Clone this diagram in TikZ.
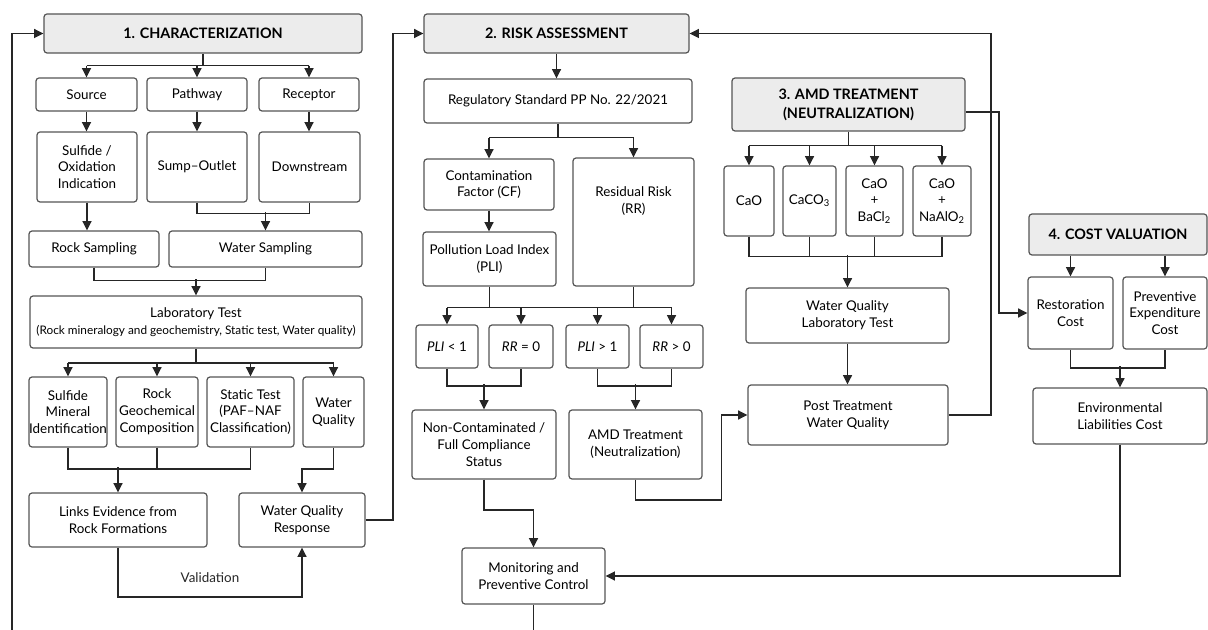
\documentclass[tikz,border=0pt]{standalone}
\usepackage{fontspec}
\setmainfont{Lato}
\usepackage{tikz}
\usetikzlibrary{arrows.meta,positioning,calc}
\definecolor{headgray}{RGB}{236,236,236}
\definecolor{edgegray}{RGB}{85,85,85}

\begin{document}
\begin{tikzpicture}[x=0.5pt,y=-0.5pt,
    font=\fontsize{6.7}{8.4}\selectfont,
    box/.style={draw=edgegray, line width=0.6pt, rounded corners=1.5pt, fill=white, inner sep=0pt, align=center},
    head/.style={box, fill=headgray, font=\fontsize{7.2}{9.4}\selectfont\bfseries},
    sz/.style 2 args={minimum width=#1*0.5pt, minimum height=#2*0.5pt},
    ln/.style={line width=0.9pt, black!85},
    arr/.style={ln, -{Triangle[width=4.4pt,length=4.6pt]}}]
\useasboundingbox (0,0) rectangle (1208,630);

    % 1. Characterization
    \node[head, sz={318}{39}] (char) at (203,33.5) {1. CHARACTERIZATION};
    \node[box, sz={101}{33}] (source) at (86.5,94.5) {Source};
    \node[box, sz={100}{33}] (pathway) at (197,94.5) {Pathway};
    \node[box, sz={100}{33}] (receptor) at (309,94.5) {Receptor};
    \node[box, sz={100}{70}] (sulfide) at (87,167) {Sulfide /\\Oxidation\\Indication};
    \node[box, sz={100}{70}] (sump) at (197,167) {Sump--Outlet};
    \node[box, sz={101}{70}] (downstr) at (309.5,167) {Downstream};
    \node[box, sz={130}{36}] (rocks) at (94,249) {Rock Sampling};
    \node[box, sz={193}{36}] (waters) at (265.5,249) {Water Sampling};
    \node[box, sz={332}{52}] (lab) at (196,322) {Laboratory Test\\{\fontsize{5.9}{8.4}\selectfont (Rock mineralogy and geochemistry, Static test, Water quality)}};
    \node[box, sz={78}{70}] (smi) at (68,412) {Sulfide\\Mineral\\Identification};
    \node[box, sz={82}{70}] (rgc) at (157,412) {Rock\\Geochemical\\Composition};
    \node[box, sz={87}{70}] (stt) at (250.5,412) {Static Test\\(PAF--NAF\\Classification)};
    \node[box, sz={61}{70}] (wq) at (333.5,412) {Water\\Quality};
    \node[box, sz={178}{54}] (links) at (118,520) {Links Evidence from\\Rock Formations};
    \node[box, sz={126}{54}] (wqr) at (302,520) {Water Quality\\Response};

    % 2. Risk assessment
    \node[head, sz={265}{39}] (risk) at (556.5,33.5) {2. RISK ASSESSMENT};
    \node[box, sz={268}{44}] (reg) at (558,101) {Regulatory Standard PP No. 22/2021};
    \node[box, sz={130}{51}] (cf) at (489,184.5) {Contamination\\Factor (CF)};
    \node[box, sz={121}{128}] (rr) at (633.5,222) {};
    \node[align=center] (rrtxt) at (633.5,201) {Residual Risk\\(RR)};
    \node[box, sz={133}{54}] (pli) at (489.5,259) {Pollution Load Index\\(PLI)};
    \node[box, sz={62}{43}] (lt1) at (447,346.5) {\textit{PLI} < 1};
    \node[box, sz={64}{43}] (eq0) at (521,346.5) {\textit{RR} = 0};
    \node[box, sz={63}{43}] (gt1) at (597.5,346.5) {\textit{PLI} > 1};
    \node[box, sz={63}{43}] (gt0) at (671.5,346.5) {\textit{RR} > 0};
    \node[box, sz={144}{69}] (noncon) at (484,444.5) {Non-Contaminated /\\Full Compliance\\Status};
    \node[box, sz={133}{69}] (amdt) at (635.5,444.5) {AMD Treatment\\(Neutralization)};
    \node[box, sz={143}{56}] (mon) at (533.5,576) {Monitoring and\\Preventive Control};

    % 3. AMD treatment
    \node[head, sz={233}{53}] (amd) at (848.5,104.5) {3. AMD TREATMENT\\(NEUTRALIZATION)};
    \node[box, sz={50}{70}] (cao) at (749,201) {CaO};
    \node[box, sz={53}{70}] (caco) at (809.5,201) {CaCO\textsubscript{3}};
    \node[box, sz={57}{70}] (caba) at (874.5,201) {CaO\\+\\BaCl\textsubscript{2}};
    \node[box, sz={58}{70}] (caal) at (942,201) {CaO\\+\\NaAlO\textsubscript{2}};
    \node[box, sz={203}{55}] (wql) at (847.5,315.5) {Water Quality\\Laboratory Test};
    \node[box, sz={200}{60}] (post) at (848,415) {Post Treatment\\Water Quality};

    % 4. Cost valuation
    \node[head, sz={178}{41}] (cost) at (1118,234.5) {4. COST VALUATION};
    \node[box, sz={85}{72}] (rest) at (1070.5,313) {Restoration\\Cost};
    \node[box, sz={84}{72}] (prev) at (1165,313) {Preventive\\Expenditure\\Cost};
    \node[box, sz={174}{56}] (env) at (1120,416) {Environmental\\Liabilities Cost};

    % connectors, characterization
    \draw[ln] (char.south) -- ++(0,12) coordinate (c1);
    \draw[ln] (source.north |- c1) -- (receptor.north |- c1);
    \foreach \n in {source,pathway,receptor} {
        \draw[arr] (\n.north |- c1) -- (\n.north);
    }
    \foreach \a/\b in {source/sulfide,pathway/sump,receptor/downstr} {
        \draw[arr] (\a.south) -- (\a.south |- \b.north);
    }
    \draw[arr] (sulfide.south) -- (sulfide.south |- rocks.north);
    \draw[ln] (sump.south) -- ++(0,11) -| (downstr.south);
    \draw[arr] (waters.north) ++(0,-18) -- (waters.north);
    \draw[ln] (rocks.south) -- ++(0,13) -| (waters.south);
    \draw[arr] (lab.north) ++(0,-16) -- (lab.north);

    \draw[ln] (lab.south) -- ++(0,14) coordinate (c2);
    \draw[ln] (smi.north |- c2) -- (wq.north |- c2);
    \foreach \n in {smi,rgc,stt,wq} {
        \draw[arr] (\n.north |- c2) -- (\n.north);
    }
    \draw[ln] (smi.south) -- ++(0,21) -| (stt.south);
    \draw[ln] (rgc.south) -- ++(0,21);
    \draw[arr] (links.north) ++(0,-25) -- (links.north);
    \draw[arr] (wq.south) -- ++(0,21) -| (wqr.north);
    \draw[arr] (links.south) -- ++(0,49) -| node[pos=0.25, above=3pt] {Validation} (wqr.south);

    % loops back to the headers
    \coordinate (bl) at (12,630);
    \draw[arr] (bl) |- (char.west);
    \draw[arr] (wqr.east) -- ++(27,0) |- (risk.west);

    % connectors, risk assessment
    \draw[arr] (risk.south) -- (risk.south |- reg.north);
    \draw[ln] (reg.south) -- ++(0,14) coordinate (r1);
    \draw[ln] (cf.north |- r1) -- (rr.north |- r1);
    \foreach \n in {cf,rr} {
        \draw[arr] (\n.north |- r1) -- (\n.north);
    }
    \draw[arr] (cf.south) -- (cf.south |- pli.north);
    \draw[ln] (pli.south) -- ++(0,21) coordinate (r2);
    \draw[ln] (rr.south) -- (rr.south |- r2);
    \draw[ln] (lt1.north |- r2) -- (gt0.north |- r2);
    \foreach \n in {lt1,eq0,gt1,gt0} {
        \draw[arr] (\n.north |- r2) -- (\n.north);
    }
    \draw[ln] (lt1.south) -- ++(0,17) -| (eq0.south);
    \draw[arr] (noncon.north) ++(0,-25) -- (noncon.north);
    \draw[ln] (gt1.south) -- ++(0,17) -| (gt0.south);
    \draw[arr] (amdt.north) ++(0,-25) -- (amdt.north);
    \draw[arr] (noncon.south) -- ++(0,30) -| (mon.north);
    \draw[ln] (mon.south) -- (mon.south |- bl);
    \draw[arr] (amdt.south) -- ++(0,20) -| ($(post.west)+(-26,0)$) -- (post.west);

    % connectors, AMD treatment
    \draw[ln] (amd.south) -- ++(0,14) coordinate (a1);
    \draw[ln] (cao.north |- a1) -- (caal.north |- a1);
    \foreach \n in {cao,caco,caba,caal} {
        \draw[arr] (\n.north |- a1) -- (\n.north);
    }
    \draw[ln] (cao.south) -- ++(0,20) -| (caal.south);
    \draw[ln] (caco.south) -- ++(0,20);
    \draw[ln] (caba.south) -- ++(0,20);
    \draw[arr] (wql.north) ++(0,-32) -- (wql.north);
    \draw[arr] (wql.south) -- (wql.south |- post.north);
    \draw[arr] (post.east) -- ++(42,0) |- (risk.east);
    \draw[arr] ([yshift=-3.75pt]amd.east) -- ++(33,0) |- (rest.west);

    % connectors, cost valuation
    \foreach \n in {rest,prev} {
        \draw[arr] (\n.north |- cost.south) -- (\n.north);
    }
    \draw[ln] (rest.south) -- ++(0,18) -| (prev.south);
    \draw[arr] (env.north) ++(0,-21) -- (env.north);
    \draw[arr] (env.south) |- (mon.east);
\end{tikzpicture}
\end{document}
